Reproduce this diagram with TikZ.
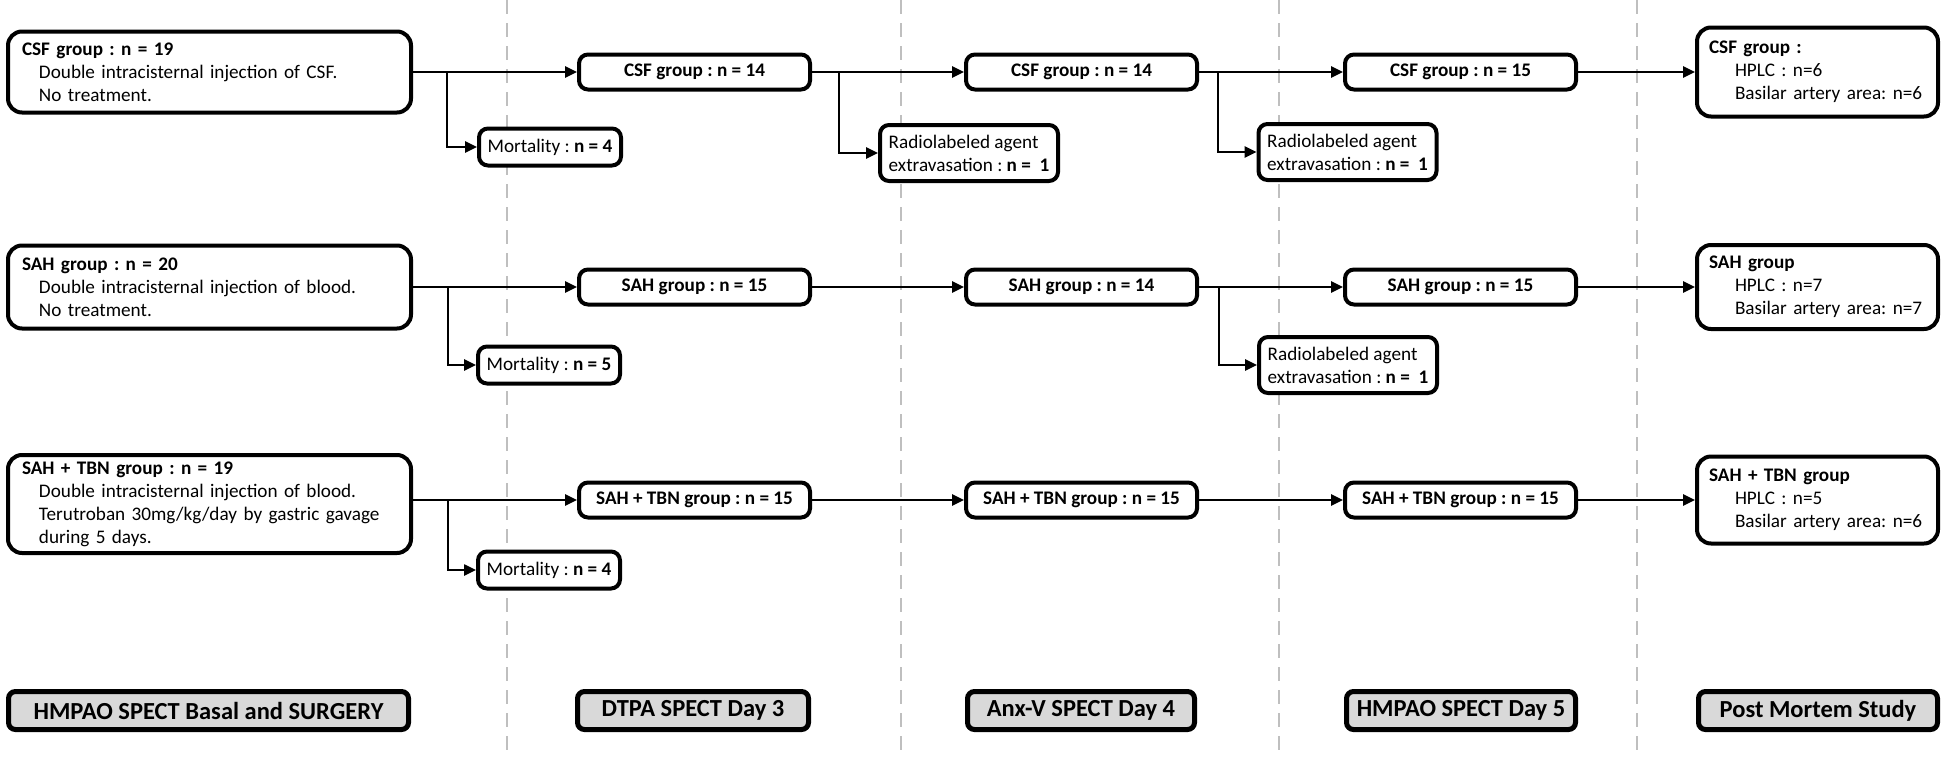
\documentclass[tikz,border=0pt]{standalone}
\usepackage{fontspec}
\setmainfont{Carlito}
\usetikzlibrary{arrows.meta}
\definecolor{sepgray}{RGB}{191,191,191}
\definecolor{hdrgray}{RGB}{217,217,217}
\newcommand\fsz{\fontsize{19.2}{23}\selectfont}
\newcommand\hsz{\fontsize{24.5}{29}\selectfont}
\newcommand\ind{\hspace*{17pt}}
\newcommand\indp{\hspace*{26pt}}
\frenchspacing
\begin{document}
\frenchspacing
\begin{tikzpicture}[x=1pt,y=-1pt,
  bigbox/.style={draw, fill=white, line width=4pt, rounded corners=14pt, inner sep=0pt, font=\fsz\frenchspacing, align=left},
  midbox/.style={draw, fill=white, line width=4pt, rounded corners=9pt, minimum width=231pt, minimum height=35pt, inner sep=0pt, font=\fsz\bfseries\frenchspacing},
  mortbox/.style={draw, fill=white, line width=4pt, rounded corners=9pt, minimum width=142pt, minimum height=37pt, inner sep=0pt, font=\fsz\frenchspacing},
  radbox/.style={draw, fill=white, line width=4pt, rounded corners=9pt, minimum width=178pt, minimum height=56pt, inner sep=0pt, font=\fsz\frenchspacing, align=left},
  postbox/.style={draw, fill=white, line width=4pt, rounded corners=14pt, minimum width=241pt, inner sep=0pt, font=\fsz\frenchspacing, align=left, text width=217pt},
  hdrbox/.style={draw, fill=hdrgray, line width=5pt, rounded corners=7pt, minimum height=38pt, inner sep=0pt, font=\hsz\bfseries\frenchspacing},
  arr/.style={line width=2.5pt, -{Triangle[length=12pt,width=11pt]}},
  sepline/.style={draw=sepgray, line width=2.5pt, dash pattern=on 14pt off 9pt}
]
\useasboundingbox (0,0) rectangle (1946,758);

% separators
\draw[sepline] (507,0) -- (507,758);
\draw[sepline] (901,0) -- (901,758);
\draw[sepline] (1279,0) -- (1279,758);
\draw[sepline] (1637,0) -- (1637,758);

% row 1
\node[bigbox, minimum width=403pt, minimum height=81pt, text width=375pt] (csf0) at (209.5,72)
  {\textbf{CSF group : n = 19}\\\ind Double intracisternal injection of CSF.\\\ind No treatment.};
\node[midbox] (csf1) at (694.5,72) {CSF group : n = 14};
\node[midbox] (csf2) at (1081.5,72) {CSF group : n = 14};
\node[midbox] (csf3) at (1460.5,72) {CSF group : n = 15};
\node[postbox, minimum height=89pt] (csf4) at (1817.5,72)
  {\textbf{CSF group :}\\\indp HPLC : n=6\\\indp Basilar artery area: n=6};
\node[mortbox] (m1) at (550,147) {Mortality : \textbf{n = 4}};
\node[radbox] (r1) at (969,153) {Radiolabeled agent\\extravasation : \textbf{n =\ \ 1}};
\node[radbox] (r2) at (1347.5,152) {Radiolabeled agent\\extravasation : \textbf{n =\ \ 1}};

\coordinate (b1a) at (447,72);
\coordinate (b1b) at (839,72);
\coordinate (b1c) at (1218,72);
\draw[arr] (csf0.east) -- (csf1.west);
\draw[arr] (b1a) |- (m1.west);
\draw[arr] (csf1.east) -- (csf2.west);
\draw[arr] (b1b) |- (r1.west);
\draw[arr] (csf2.east) -- (csf3.west);
\draw[arr] (b1c) |- (r2.west);
\draw[arr] (csf3.east) -- (csf4.west);

% row 2
\node[bigbox, minimum width=403pt, minimum height=83pt, text width=375pt] (sah0) at (209.5,287)
  {\textbf{SAH group : n = 20}\\\ind Double intracisternal injection of blood.\\\ind No treatment.};
\node[midbox] (sah1) at (694.5,287) {SAH group : n = 15};
\node[midbox] (sah2) at (1081.5,287) {SAH group : n = 14};
\node[midbox] (sah3) at (1460.5,287) {SAH group : n = 15};
\node[postbox, minimum height=84pt] (sah4) at (1817.5,287)
  {\textbf{SAH group}\\\indp HPLC : n=7\\\indp Basilar artery area: n=7};
\node[mortbox] (m2) at (549,365) {Mortality : \textbf{n = 5}};
\node[radbox] (r3) at (1348,365) {Radiolabeled agent\\extravasation : \textbf{n =\ \ 1}};

\coordinate (b2a) at (448,287);
\coordinate (b2c) at (1219,287);
\draw[arr] (sah0.east) -- (sah1.west);
\draw[arr] (b2a) |- (m2.west);
\draw[arr] (sah1.east) -- (sah2.west);
\draw[arr] (sah2.east) -- (sah3.west);
\draw[arr] (b2c) |- (r3.west);
\draw[arr] (sah3.east) -- (sah4.west);

% row 3
\node[bigbox, minimum width=403pt, minimum height=98pt, text width=375pt] (tbn0) at (209.5,504)
  {\textbf{SAH + TBN group : n = 19}\\\ind Double intracisternal injection of blood.\\\ind Terutroban 30mg/kg/day by gastric gavage\\\ind during 5 days.};
\node[midbox] (tbn1) at (694.5,500) {SAH + TBN group : n = 15};
\node[midbox] (tbn2) at (1081.5,500) {SAH + TBN group : n = 15};
\node[midbox] (tbn3) at (1460.5,500) {SAH + TBN group : n = 15};
\node[postbox, minimum height=87pt] (tbn4) at (1817.5,500)
  {\textbf{SAH + TBN group}\\\indp HPLC : n=5\\\indp Basilar artery area: n=6};
\node[mortbox] (m3) at (549,570) {Mortality : \textbf{n = 4}};

\coordinate (b3a) at (448,500);
\draw[arr] (tbn0.east |- tbn1.west) -- (tbn1.west);
\draw[arr] (b3a) |- (m3.west);
\draw[arr] (tbn1.east) -- (tbn2.west);
\draw[arr] (tbn2.east) -- (tbn3.west);
\draw[arr] (tbn3.east) -- (tbn4.west);

% headers
\node[hdrbox, minimum width=400pt] (h0) at (208.5,710.5) {HMPAO SPECT Basal and SURGERY};
\node[hdrbox, minimum width=231pt] (h1) at (693,710.5) {DTPA SPECT Day 3};
\node[hdrbox, minimum width=227pt] (h2) at (1081,710.5) {Anx-V SPECT Day 4};
\node[hdrbox, minimum width=229pt] (h3) at (1461,710.5) {HMPAO SPECT Day 5};
\node[hdrbox, minimum width=239pt] (h4) at (1818,710.5) {Post Mortem Study};
\end{tikzpicture}
\end{document}
